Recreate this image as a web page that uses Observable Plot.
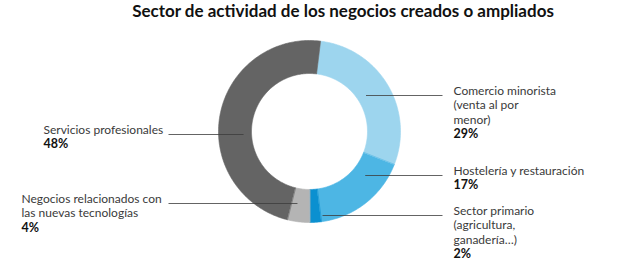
<!DOCTYPE html>
<html><head><meta charset="utf-8">
<script src="https://cdn.jsdelivr.net/npm/d3@7"></script>
<script src="https://cdn.jsdelivr.net/npm/@observablehq/plot@0.6"></script>
<style>body{margin:0;background:#fff;}</style>
</head><body><div id="chart"></div>
<script>
// ---- data ----
const title = "Sector de actividad de los negocios creados o ampliados";
const categories = [
  "Comercio minorista\n(venta al por\nmenor)",
  "Hostelería y restauración",
  "Sector primario\n(agricultura,\nganadería…)",
  "Negocios relacionados con\nlas nuevas tecnologías",
  "Servicios profesionales"
];
const values = [29, 17, 2, 4, 48];
const percentLabels = ["29%", "17%", "2%", "4%", "48%"];
const colors = ["#9dd5ee", "#4db6e4", "#0b90d0", "#b4b4b4", "#646464"];

// ---- layout ----
const W = 631, H = 262;
const cx = 309, cy = 131, R = 91, r0 = 58;
const start = 7 * Math.PI / 180;
const side = ["right", "right", "right", "left", "left"];
const leaderY = [95, 175, 215, 203, 134];
const leaderR = [67, 71, 85, 73, 66];
const labelX = [453, 453, 453, 21, 43];
const rightEnd = 442, leftStart = 168;
const lineH = 14.6;

const table = categories.map((c, i) => ({name: c, value: values[i], pct: percentLabels[i], color: colors[i]}));
const arcs = d3.pie().sort(null).value(d => d.value).startAngle(start).endAngle(start + 2 * Math.PI)(table);

const pt = (a, r) => [cx + r * Math.sin(a), cy - r * Math.cos(a)];
const poly = [];
arcs.forEach(a => {
  const n = Math.max(4, Math.ceil((a.endAngle - a.startAngle) / (Math.PI / 180)));
  for (let k = 0; k <= n; k++) {
    const t = a.startAngle + (a.endAngle - a.startAngle) * k / n;
    const [x, y] = pt(t, R); poly.push({name: a.data.name, color: a.data.color, x, y});
  }
  for (let k = n; k >= 0; k--) {
    const t = a.startAngle + (a.endAngle - a.startAngle) * k / n;
    const [x, y] = pt(t, r0); poly.push({name: a.data.name, color: a.data.color, x, y});
  }
});

const leaders = table.map((d, i) => {
  const dy = leaderY[i] - cy;
  const dx = Math.sqrt(Math.max(0, leaderR[i] ** 2 - dy ** 2));
  return side[i] === "right"
    ? {x1: cx + dx, x2: rightEnd, y: leaderY[i]}
    : {x1: leftStart, x2: cx - dx, y: leaderY[i]};
});

const labels = table.map((d, i) => ({
  text: d.name, pct: d.pct, x: labelX[i],
  y: leaderY[i] - 11,
  py: leaderY[i] - 10 + d.name.split("\n").length * lineH
}));

const font = "Lato, 'Liberation Sans', sans-serif";

const chart = Plot.plot({
  width: W, height: H,
  marginTop: 0, marginRight: 0, marginBottom: 0, marginLeft: 0,
  x: {domain: [0, W], range: [0, W], axis: null},
  y: {domain: [0, H], range: [0, H], axis: null},
  color: {type: "identity"},
  style: {fontFamily: font, background: "#fff"},
  marks: [
    Plot.line(poly, {x: "x", y: "y", z: "name", fill: "color", stroke: "color", strokeWidth: 0.6, curve: "linear-closed"}),
    Plot.link(leaders, {x1: "x1", x2: "x2", y1: "y", y2: "y", stroke: "#3c3c3c", strokeWidth: 0.8}),
    Plot.text(labels, {x: "x", y: "y", text: "text", textAnchor: "start", lineAnchor: "top", lineHeight: lineH / 12, fontSize: 12, fill: "#3a3a3a", fontFamily: font}),
    Plot.text(labels, {x: "x", y: "py", text: "pct", textAnchor: "start", lineAnchor: "top", fontSize: 12.5, fontWeight: "bold", fill: "#111", fontFamily: font}),
    Plot.text([title], {text: d => d, frameAnchor: "top", dx: 27, dy: 4, lineAnchor: "top", fontSize: 17, fontWeight: "bold", fill: "#111", fontFamily: font})
  ]
});
document.getElementById("chart").appendChild(chart);
</script>
</body></html>
